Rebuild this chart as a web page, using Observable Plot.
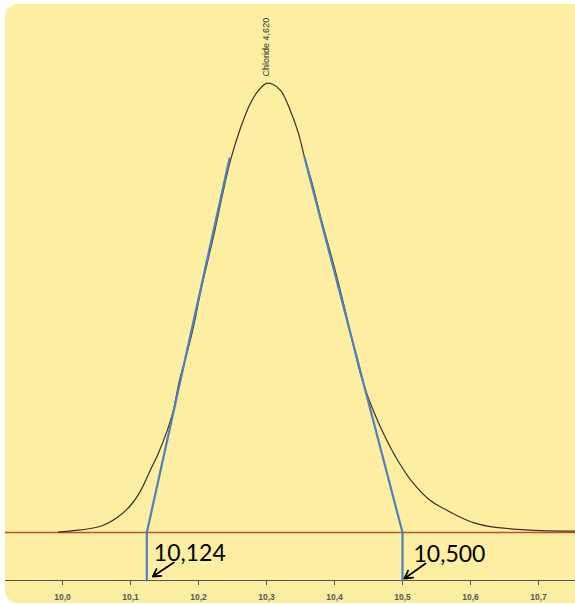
<!DOCTYPE html>
<html><head><meta charset="utf-8">
<script src="https://cdn.jsdelivr.net/npm/d3@7"></script>
<script src="https://cdn.jsdelivr.net/npm/@observablehq/plot@0.6"></script>
<style>
body{margin:0;background:#fff;}
#wrap{position:relative;width:575px;height:604px;overflow:hidden;}
#bg{position:absolute;left:5px;top:4px;width:600px;height:599px;background:#fdeea2;border-radius:13px;}
#chart{position:absolute;left:0;top:0;}
</style></head><body>
<div id="wrap"><div id="bg"></div><div id="chart"></div></div>
<script>
// Chromatogram trace (retention time, min) and signal (relative units)
const curveTime = [9.994,10.016,10.056,10.081,10.100,10.115,10.129,10.141,10.154,10.163,10.172,10.182,10.193,10.203,10.213,10.224,10.235,10.247,10.262,10.276,10.288,10.300,10.309,10.321,10.335,10.347,10.356,10.368,10.379,10.391,10.403,10.415,10.426,10.441,10.457,10.472,10.493,10.516,10.541,10.566,10.585,10.604,10.629,10.669,10.703,10.754];
const curveSignal = [0.1,0.4,1.4,3.4,6.0,9.3,13.8,17.6,22.7,27.1,33.8,39.3,46.0,53.5,60.0,67.1,74.9,82.7,90.0,95.3,98.2,99.8,99.6,98.2,93.8,88.7,83.3,77.1,70.4,63.8,57.1,49.8,42.7,33.8,27.1,22.0,16.0,10.9,7.1,4.9,3.4,2.2,1.3,0.7,0.4,0.3];

// Peak
const peakName = "Chloride 4,620";
const peakTime = 10.300;
const peakSignal = 99.8;

// Tangent construction: baseline intercepts and tangent end points
const tangentStart = [10.124, 10.500];
const tangentEndTime = [10.2456, 10.356];
const tangentEndSignal = [83.1, 83.3];
const tangentLabels = ["10,124", "10,500"];

// Axis ticks
const xTicks = [10.0, 10.1, 10.2, 10.3, 10.4, 10.5, 10.6, 10.7];
const xTickLabels = ["10,0","10,1","10,2","10,3","10,4","10,5","10,6","10,7"];

const xDomain = [9.90882, 10.75441];
const yDomain = [-10.667, 117.333];
const yMin = yDomain[0];
const xLeft = 9.9162;
const pxX = 680; // px per minute (for small offsets)
const pxY = 4.5;

const curve = curveTime.map((t, i) => ({t, s: curveSignal[i]}));
const tangents = tangentStart.map((t0, i) => [
  {t: t0, s: yMin, k: i},
  {t: t0, s: 0, k: i},
  {t: tangentEndTime[i], s: tangentEndSignal[i], k: i}
]).flat();
const ticks = xTicks.map((v, i) => ({v, label: xTickLabels[i]}));
const ann = tangentStart.map((v, i) => ({v, label: tangentLabels[i], i}));

const chart = Plot.plot({
  width: 575,
  height: 604,
  marginLeft: 0, marginRight: 0, marginTop: 4, marginBottom: 24,
  style: {background: "transparent", overflow: "visible"},
  x: {domain: xDomain, axis: null},
  y: {domain: yDomain, axis: null},
  marks: [
    // baseline (red)
    Plot.ruleY([0], {x1: xLeft, x2: xDomain[1], stroke: "#b4552c", strokeWidth: 1.3}),
    // axis line
    Plot.ruleY([yMin], {x1: xLeft, x2: xDomain[1], stroke: "#555", strokeWidth: 1}),
    Plot.ruleX(ticks, {x: "v", y1: yMin, y2: yMin - 5 / pxY, stroke: "#555", strokeWidth: 1}),
    Plot.text(ticks, {x: "v", y: yMin, dy: 17, text: "label", fontSize: 8.5, fontWeight: "bold", fill: "#555", fontFamily: "Liberation Sans, Arial, sans-serif"}),
    // chromatogram
    Plot.line(curve, {x: "t", y: "s", stroke: "#3a302a", strokeWidth: 1.2, curve: "catmull-rom"}),
    // tangents
    Plot.line(tangents, {x: "t", y: "s", z: "k", stroke: "#4f81bd", strokeWidth: 2.2}),
    // peak label
    Plot.text([{t: peakTime, s: peakSignal}], {x: "t", y: "s", text: () => peakName, rotate: -90, textAnchor: "start", dy: -7, fontSize: 9, fill: "#333", fontFamily: "Liberation Sans, Arial, sans-serif"}),
    // annotations
    Plot.text(ann.filter(d => d.i === 0), {x: "v", y: yMin, text: "label", textAnchor: "start", lineAnchor: "bottom", dx: 7, dy: -20, fontSize: 23, fill: "#000", fontFamily: "Lato, sans-serif"}),
    Plot.text(ann.filter(d => d.i === 1), {x: "v", y: yMin, text: "label", textAnchor: "start", lineAnchor: "bottom", dx: 11, dy: -19, fontSize: 23, fill: "#000", fontFamily: "Lato, sans-serif"}),
    Plot.arrow(ann.filter(d => d.i === 0), {x1: d => d.v + 27 / pxX, y1: -6.67, x2: d => d.v + 6 / pxX, y2: -9.78, stroke: "#000", strokeWidth: 1.8, headLength: 10}),
    Plot.arrow(ann.filter(d => d.i === 1), {x1: d => d.v + 23 / pxX, y1: -6.89, x2: d => d.v + 2 / pxX, y2: -10.22, stroke: "#000", strokeWidth: 1.8, headLength: 10})
  ]
});
document.getElementById("chart").appendChild(chart);
</script>
</body></html>
